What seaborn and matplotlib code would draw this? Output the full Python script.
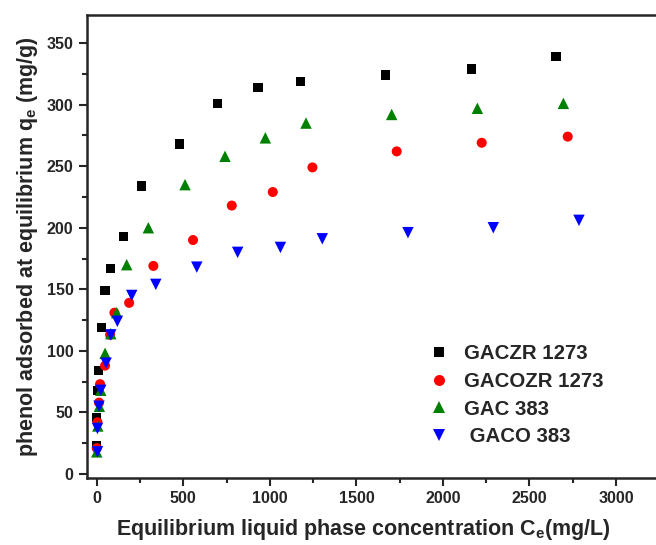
import pandas as pd
import matplotlib.pyplot as plt
import seaborn as sns
from matplotlib.ticker import MultipleLocator

# Valeurs
gaczr_x = [0, 0, 3, 9, 27, 48, 79, 154, 260, 479, 697, 932, 1176, 1670, 2166, 2653]
gaczr_y = [23, 46, 68, 84, 119, 149, 167, 193, 234, 268, 301, 314, 319, 324, 329, 339]

gacozr_x = [0, 4, 13, 19, 48, 77, 102, 187, 327, 556, 780, 1017, 1246, 1733, 2224, 2721]
gacozr_y = [21, 42, 58, 73, 88, 113, 131, 139, 169, 190, 218, 229, 249, 262, 269, 274]

gac_x = [0, 6, 15, 23, 48, 81, 115, 173, 298, 510, 741, 974, 1209, 1704, 2199, 2696]
gac_y = [18, 39, 55, 68, 98, 114, 131, 170, 200, 235, 258, 273, 285, 292, 297, 301]

gaco_x = [4, 4, 13, 23, 54, 81, 119, 202, 341, 578, 814, 1061, 1303, 1798, 2291, 2786]
gaco_y = [18, 37, 55, 68, 90, 113, 124, 145, 154, 168, 180, 184, 191, 196, 200, 206]

series = ["GACZR 1273", "GACOZR 1273", "GAC 383", " GACO 383"]

frames = []
for name, xs, ys in zip(series,
                        [gaczr_x, gacozr_x, gac_x, gaco_x],
                        [gaczr_y, gacozr_y, gac_y, gaco_y]):
    frames.append(pd.DataFrame({"Ce": xs, "qe": ys, "sample": name}))
df = pd.concat(frames, ignore_index=True)

sns.set_style("ticks")
plt.rcParams["font.family"] = ["Liberation Sans", "DejaVu Sans"]
plt.rcParams["font.weight"] = "bold"
plt.rcParams["mathtext.fontset"] = "custom"
plt.rcParams["mathtext.rm"] = "Liberation Sans:bold"
plt.rcParams["mathtext.it"] = "Liberation Sans:bold"
plt.rcParams["mathtext.bf"] = "Liberation Sans:bold"

fig = plt.figure(figsize=(6.56, 5.45), dpi=100)
ax = fig.add_axes([0.1322, 0.1235, 0.886, 0.8495])

palette = {series[0]: "black", series[1]: "red", series[2]: "green", series[3]: "blue"}
markers = {series[0]: "s", series[1]: "o", series[2]: "^", series[3]: "v"}
sizes = {series[0]: 45, series[1]: 52, series[2]: 68, series[3]: 68}

sns.scatterplot(data=df, x="Ce", y="qe", hue="sample", style="sample", size="sample",
                palette=palette, markers=markers, sizes=sizes,
                hue_order=series, style_order=series, size_order=series,
                linewidth=0, ax=ax)

ax.set_xlim(-58, 3300)
ax.set_ylim(-3, 373)
ax.xaxis.set_major_locator(MultipleLocator(500))
ax.xaxis.set_minor_locator(MultipleLocator(250))
ax.yaxis.set_major_locator(MultipleLocator(50))
ax.yaxis.set_minor_locator(MultipleLocator(25))
ax.tick_params(which="major", direction="out", length=6, width=1.5, labelsize=11.5)
ax.tick_params(which="minor", direction="out", length=3.5, width=1.5)
for lab in ax.get_xticklabels() + ax.get_yticklabels():
    lab.set_fontweight("bold")
for sp in ax.spines.values():
    sp.set_linewidth(1.8)

ax.set_xlabel("Equilibrium liquid phase concentration C$_e$(mg/L)", fontsize=15.5, fontweight="bold")
ax.xaxis.set_label_coords(0.477, -0.085)
ax.set_ylabel("phenol adsorbed at equilibrium q$_e$ (mg/g)", fontsize=15.5, fontweight="bold", labelpad=5)

handles, labels = ax.get_legend_handles_labels()
ax.legend(handles, labels, loc="upper left", bbox_to_anchor=(400 / 656, 1 - 326 / 545),
          bbox_transform=fig.transFigure, frameon=False, prop={"size": 14.7, "weight": "bold"},
          handletextpad=0.25, labelspacing=0.42, markerscale=1.1)

plt.savefig("out.png", dpi=100)
plt.close()
